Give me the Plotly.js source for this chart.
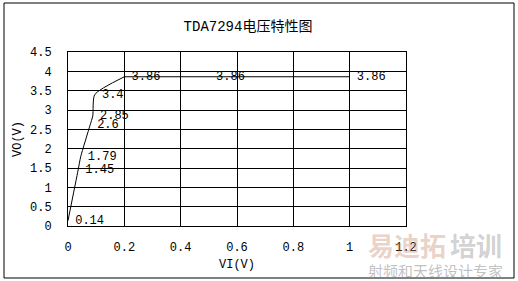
<!DOCTYPE html>
<html><head><meta charset="utf-8">
<script src="https://cdn.plot.ly/plotly-3.0.1.min.js"></script>
<style>html,body{margin:0;padding:0;background:#fff}#c{width:518px;height:281px}</style>
</head><body><div id="c"></div>
<script>
const vi = [0, 0.036, 0.045, 0.078, 0.088, 0.095, 0.2, 0.5, 1.0];
const vo = [0.14, 1.45, 1.79, 2.6, 2.85, 3.4, 3.86, 3.86, 3.86];
const labels = ["0.14", "1.45", "1.79", "2.6", "2.85", "3.4", "3.86", "3.86", "3.86"];
const titleText = "TDA7294电压特性图";
const xTitle = "VI(V)";
const yTitle = "VO(V)";

const mono = "Liberation Mono, DejaVu Sans Mono, monospace";
const bend = 7; // index where the curve becomes flat
const curve = {
  x: vi.slice(0, bend), y: vo.slice(0, bend), type: "scatter", mode: "lines",
  line: {color: "#000", width: 1, shape: "spline", smoothing: 0.6}, hoverinfo: "none"
};
const flat = {
  x: vi.slice(bend - 1), y: vo.slice(bend - 1), type: "scatter", mode: "lines",
  line: {color: "#000", width: 1}, hoverinfo: "none"
};
const texts = {
  x: vi, y: vo, text: labels, type: "scatter", mode: "text",
  texttemplate: " %{text}",
  textposition: "middle right",
  textfont: {family: mono, size: 12, color: "#000"},
  cliponaxis: false, hoverinfo: "none"
};
const L = 68, R = 112, T = 52, B = 55, W = 338, H = 174;
const px = v => (v - L) / W;
const py = v => (226 - v) / H;
const layout = {
  width: 518, height: 281,
  margin: {l: L, r: R, t: T, b: B},
  paper_bgcolor: "#fff", plot_bgcolor: "#fff",
  showlegend: false,
  title: {text: titleText, font: {family: "Liberation Mono, Noto Sans CJK SC", size: 14, color: "#000"},
          x: 248/518, xref: "container", xanchor: "center", y: 1 - 26/281, yref: "container", yanchor: "middle"},
  xaxis: {range: [0, 1.2], dtick: 0.2, tick0: 0, showgrid: true, gridcolor: "#000", gridwidth: 1,
          zeroline: false, showline: true, linecolor: "#000", linewidth: 1, mirror: true,
          ticks: "", ticklabelstandoff: 10,
          tickfont: {family: mono, size: 12, color: "#000"},
          title: {text: xTitle, font: {family: mono, size: 12, color: "#000"}, standoff: 5}},
  yaxis: {range: [0, 4.5], dtick: 0.5, tick0: 0, showgrid: true, gridcolor: "#000", gridwidth: 1,
          zeroline: false, showline: true, linecolor: "#000", linewidth: 1, mirror: true,
          ticks: "", ticklabelstandoff: 13,
          tickfont: {family: mono, size: 12, color: "#000"},
          title: {text: yTitle, font: {family: mono, size: 12, color: "#000"}, standoff: 5}},
  shapes: [{type: "rect", xref: "paper", yref: "paper",
            x0: px(4), x1: px(514), y0: py(278), y1: py(3),
            line: {color: "#000", width: 1}, layer: "below"}],
  annotations: [
    {text: "<b>易迪拓</b>", xref: "paper", yref: "paper", x: px(366), y: py(244), xanchor: "left", yanchor: "middle",
     showarrow: false, font: {family: "Noto Sans CJK SC", size: 26, color: "rgba(200,140,110,0.4)"}},
    {text: "<b>培训</b>", xref: "paper", yref: "paper", x: px(448), y: py(244), xanchor: "left", yanchor: "middle",
     showarrow: false, font: {family: "Noto Sans CJK SC", size: 26, color: "rgba(140,140,140,0.4)"}},
    {text: "射频和天线设计专家", xref: "paper", yref: "paper", x: px(366), y: py(270), xanchor: "left", yanchor: "middle",
     showarrow: false, font: {family: "Noto Sans CJK SC", size: 15, color: "rgba(140,140,140,0.55)"}}
  ]
};
Plotly.newPlot("c", [curve, flat, texts], layout, {displayModeBar: false, staticPlot: true});
</script></body></html>
